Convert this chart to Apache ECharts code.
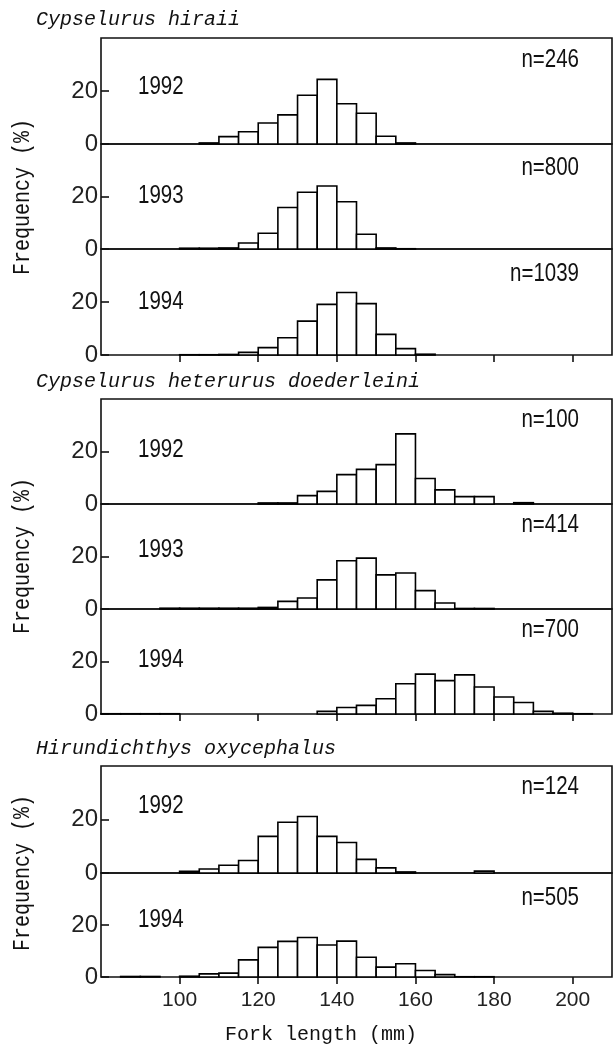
<!DOCTYPE html>
<html>
<head>
<meta charset="utf-8">
<script src="https://cdn.jsdelivr.net/npm/echarts@6/dist/echarts.min.js"></script>
<style>
  html, body { margin: 0; padding: 0; background: #fff; }
  #container { width: 613px; height: 1047px; }
</style>
</head>
<body>
<div id="container"></div>
<script>
// bin start (mm), 5 mm wide
var bins = [80, 85, 90, 95, 100, 105, 110, 115, 120, 125, 130, 135, 140, 145, 150, 155, 160, 165, 170, 175, 180, 185, 190, 195, 200, 205];
var xTicks = [100, 120, 140, 160, 180, 200];
var yTicks = [0, 20];

// Cypselurus hiraii
var hiraii1992 = [0, 0, 0, 0, 0, 0.4, 2.8, 4.6, 7.9, 11, 18.4, 24.4, 15.2, 11.6, 2.9, 0.4, 0, 0, 0, 0, 0, 0, 0, 0, 0, 0];
var hiraii1993 = [0, 0, 0, 0, 0.3, 0.3, 0.4, 2.3, 6, 15.8, 21.6, 24, 18, 5.6, 0.4, 0.1, 0, 0, 0, 0, 0, 0, 0, 0, 0, 0];
var hiraii1994 = [0, 0, 0, 0, 0.1, 0.1, 0.2, 1, 2.8, 6.5, 12.8, 19.1, 23.6, 19.4, 7.8, 2.4, 0.3, 0, 0, 0, 0, 0, 0, 0, 0, 0];

// Cypselurus heterurus doederleini
var doed1992 = [0, 0, 0, 0, 0, 0, 0, 0, 0.4, 0.4, 3.2, 4.8, 11.2, 13.2, 15, 26.7, 9.7, 5.4, 2.8, 2.8, 0, 0.5, 0, 0, 0, 0];
var doed1993 = [0, 0, 0, 0.3, 0.3, 0.3, 0.3, 0.3, 0.6, 2.9, 4.2, 11.1, 18.4, 19.4, 13, 13.7, 7, 2.3, 0.2, 0.2, 0, 0, 0, 0, 0, 0];
var doed1994 = [0.1, 0.1, 0.1, 0.1, 0, 0, 0, 0, 0, 0, 0, 1, 2.5, 3.3, 5.8, 11.5, 15.2, 12.7, 14.9, 10.3, 6.5, 4.4, 1, 0.3, 0.1, 0];

// Hirundichthys oxycephalus
var oxy1992 = [0, 0, 0, 0, 0.6, 1.5, 2.9, 4.7, 13.7, 19, 21.1, 13.7, 11.4, 5.1, 1.9, 0.4, 0, 0, 0, 0.7, 0, 0, 0, 0, 0, 0];
var oxy1994 = [0, 0.2, 0.2, 0, 0.3, 1.2, 1.5, 6.6, 11.4, 13.7, 15.2, 12.3, 13.8, 7.6, 3.8, 5.1, 2.5, 0.9, 0.1, 0.1, 0, 0, 0, 0, 0, 0];

var species = ['Cypselurus hiraii', 'Cypselurus heterurus doederleini', 'Hirundichthys oxycephalus'];
var years = ['1992', '1993', '1994', '1992', '1993', '1994', '1992', '1994'];
var counts = ['n=246', 'n=800', 'n=1039', 'n=100', 'n=414', 'n=700', 'n=124', 'n=505'];
var panelData = [hiraii1992, hiraii1993, hiraii1994, doed1992, doed1993, doed1994, oxy1992, oxy1994];

// layout (px): top and bottom (zero line) of every panel
var panelBox = [[38, 144], [144, 249], [249, 355], [399, 504], [504, 609], [609, 714], [766, 873], [873, 977]];
var groupBottom = [2, 5, 7]; // panels that carry x ticks
var titleY = [20, 382, 749];
var ylabelY = [197, 556, 873];
var yearOffset = [57, 53, 53, 54, 59, 54, 67, 57];
var nOffset = [84, 81, 81, 84, 84, 84, 86, 79];

var numFont = '"Liberation Sans", Arimo, "Noto Sans", sans-serif';
var monoFont = '"Liberation Mono", "DejaVu Sans Mono", monospace';
var binWidth = 5;

var chart = echarts.init(document.getElementById('container'));

function renderBar(params, api) {
    var x0 = api.value(0);
    var v = api.value(1);
    var p1 = api.coord([x0, v]);
    var p2 = api.coord([x0 + binWidth, 0]);
    return {
        type: 'rect',
        shape: { x: p1[0], y: p1[1], width: p2[0] - p1[0], height: p2[1] - p1[1] },
        style: { fill: '#fff', stroke: '#000', lineWidth: 1.6 }
    };
}

var grids = [], xAxes = [], yAxes = [], series = [], graphics = [];

panelData.forEach(function (vals, i) {
    var box = panelBox[i];
    var isBottom = groupBottom.indexOf(i) >= 0;
    var isLast = i === panelData.length - 1;
    grids.push({
        left: 101, width: 511, top: box[0], height: box[1] - box[0],
        outerBoundsMode: 'none',
        show: true, borderColor: '#111', borderWidth: 1.6, backgroundColor: 'transparent'
    });
    xAxes.push({
        type: 'value', gridIndex: i, min: 80, max: 210, interval: 20,
        axisLine: { show: false },
        axisTick: { show: isBottom, inside: false, length: 7, customValues: xTicks, lineStyle: { color: '#111', width: 1.6 } },
        axisLabel: {
            show: isLast, margin: 13, color: '#222', fontFamily: numFont, fontSize: 21,
            customValues: xTicks
        },
        splitLine: { show: false }
    });
    yAxes.push({
        type: 'value', gridIndex: i, min: 0, max: 40, interval: 20,
        axisLine: { show: false },
        axisTick: { show: true, inside: true, length: 8, customValues: yTicks, lineStyle: { color: '#111', width: 1.6 } },
        axisLabel: {
            margin: 3, color: '#222', fontFamily: numFont, fontSize: 24,
            customValues: yTicks
        },
        splitLine: { show: false }
    });
    var d = [];
    bins.forEach(function (b, k) {
        if (vals[k] > 0) d.push([b, vals[k]]);
    });
    series.push({
        type: 'custom', xAxisIndex: i, yAxisIndex: i, data: d,
        renderItem: renderBar, silent: true
    });
    graphics.push({
        type: 'text', x: 138, y: box[1] - yearOffset[i], scaleX: 0.82,
        style: { text: years[i], font: '25px ' + numFont, fill: '#111', verticalAlign: 'middle' }
    });
    graphics.push({
        type: 'text', x: 579, y: box[1] - nOffset[i], scaleX: 0.82,
        style: { text: counts[i], font: '25px ' + numFont, fill: '#111', align: 'right', verticalAlign: 'middle' }
    });
});

species.forEach(function (name, g) {
    graphics.push({
        type: 'text', x: 36, y: titleY[g],
        style: { text: name, font: 'italic 20px ' + monoFont, fill: '#111', verticalAlign: 'middle' }
    });
    graphics.push({
        type: 'text', x: 23, y: ylabelY[g], rotation: Math.PI / 2, scaleY: 1.15,
        style: { text: 'Frequency (%)', font: '20px ' + monoFont, fill: '#111', align: 'center', verticalAlign: 'middle' }
    });
});

graphics.push({
    type: 'text', x: 321, y: 1035,
    style: { text: 'Fork length (mm)', font: '20px ' + monoFont, fill: '#111', align: 'center', verticalAlign: 'middle' }
});

chart.setOption({
    animation: false,
    backgroundColor: '#fff',
    grid: grids,
    xAxis: xAxes,
    yAxis: yAxes,
    series: series,
    graphic: graphics
});
</script>
</body>
</html>
